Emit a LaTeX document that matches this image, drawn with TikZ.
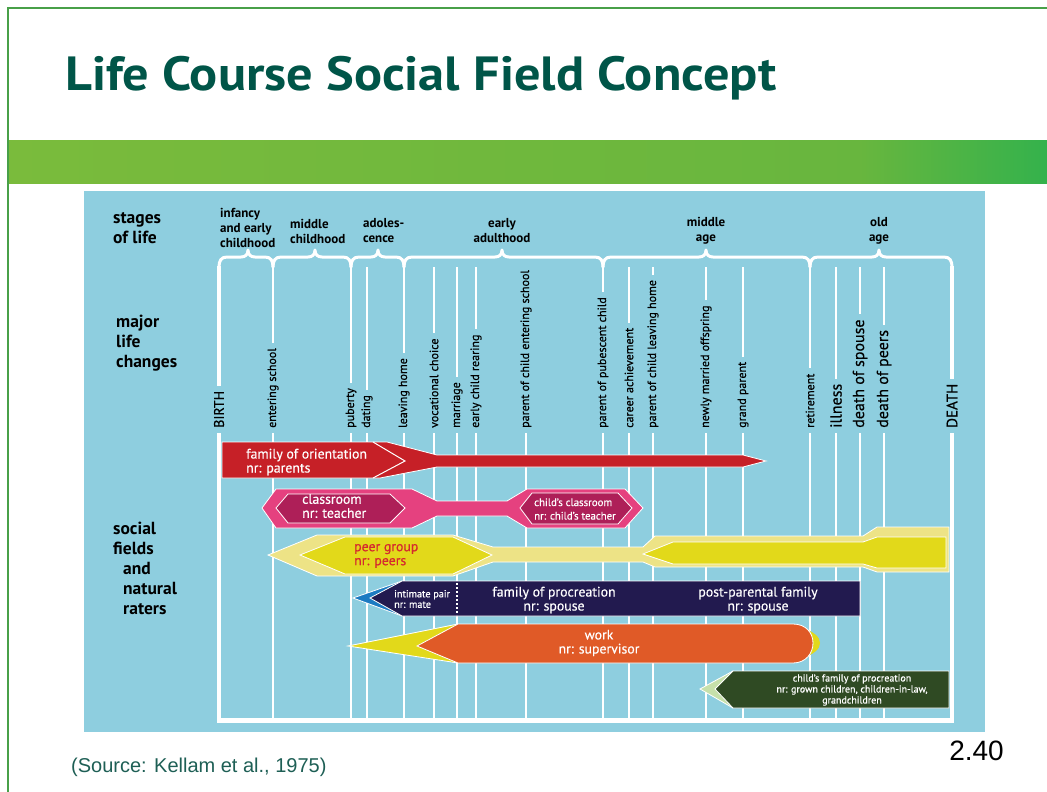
\documentclass[tikz,border=0pt]{standalone}
\usepackage{fontspec}
\setmainfont{PT Sans}
\newfontfamily\medf[FakeBold=0.5]{PT Sans}
\newfontfamily\arialf{Liberation Sans}
\definecolor{panelc}{RGB}{142,206,223}
\definecolor{titlec}{RGB}{0,85,72}
\definecolor{borderg}{RGB}{72,160,72}
\definecolor{bandL}{RGB}{122,187,60}
\definecolor{bandM}{RGB}{104,182,62}
\definecolor{bandR}{RGB}{52,178,76}
\definecolor{redc}{RGB}{198,32,39}
\definecolor{pinkc}{RGB}{229,65,127}
\definecolor{magc}{RGB}{174,31,88}
\definecolor{yelc}{RGB}{226,217,26}
\definecolor{lyelc}{RGB}{237,227,134}
\definecolor{navyc}{RGB}{34,26,79}
\definecolor{bluec}{RGB}{28,123,194}
\definecolor{orangec}{RGB}{224,90,39}
\definecolor{dgreenc}{RGB}{47,74,35}
\definecolor{lgreenc}{RGB}{198,224,170}
\definecolor{peertxt}{RGB}{213,40,46}
\definecolor{sourcec}{RGB}{30,95,85}
\newcommand\lcbrace[3]{%
  \draw[brc] (#1,267) .. controls (#1,261) and (#1+2,257) .. (#1+8,257)
    -- (#2-7,257) .. controls (#2-3,257) and (#2,255) .. (#2,250)
    .. controls (#2,255) and (#2+3,257) .. (#2+7,257)
    -- (#3-8,257) .. controls (#3-2,257) and (#3,261) .. (#3,267);}
\newcommand\lcline[6]{%
  \node[#4] (#1) at (#2,433) {#5};
  \draw[#6] (#2,#3) -- (#1.east);
  \draw[#6] (#1.west) -- (#2,720);}
\begin{document}
\begin{tikzpicture}[x=1pt,y=-1pt,
  vl/.style={draw=white,line width=2.6pt},
  vlthick/.style={draw=white,line width=4.5pt},
  brc/.style={draw=white,line width=3pt,line cap=round,line join=round},
  vlbl/.style={rotate=90,anchor=west,inner xsep=5pt,inner ysep=0pt,font=\medf\fontsize{12}{12}\selectfont},
  vlblbig/.style={vlbl,font=\medf\fontsize{16}{16}\selectfont},
  vlblcap/.style={vlbl,font=\medf\fontsize{15}{15}\selectfont},
  fld/.style={draw=white,line width=0.8pt,line join=miter},
  headlbl/.style={font=\bfseries\fontsize{17.5}{20}\selectfont,align=left,anchor=west,inner sep=0pt},
  stagelbl/.style={font=\bfseries\fontsize{13}{15}\selectfont,inner sep=0pt},
  ftxt/.style={text=white,font=\medf\fontsize{13.8}{14}\selectfont,inner sep=0pt},
  stxt/.style={text=white,font=\medf\fontsize{11}{14}\selectfont,inner sep=0pt,align=left,anchor=west},
]
\useasboundingbox (0,0) rectangle (1047,792);
\fill[white] (0,0) rectangle (1047,792);
% header
\shade[left color=bandL,right color=bandM] (8,140) rectangle (860,183);
\shade[left color=bandM,right color=bandR] (860,140) rectangle (1047,183);
\draw[borderg,line width=2pt] (8,792) -- (8,8) -- (1047,8);
\node[anchor=base west,inner sep=0pt,text=titlec,font=\bfseries\fontsize{48}{48}\selectfont] (title) at (65,91) {\scalebox{1.09}[1]{Life Course Social Field Concept}};
% panel
\fill[panelc] (84,191) rectangle (985,732);
% left labels
\node[headlbl] (stages) at (113,228) {stages\\of life};
\node[headlbl] (major) at (116,343) {major\\life\\changes};
\node[headlbl] (social) at (113,568) {social\\fields\\\hspace*{10pt}and\\\hspace*{10pt}natural\\\hspace*{10pt}raters};
% stage labels
\node[stagelbl,align=left,anchor=west] (infancy) at (220,228) {infancy\\and early\\childhood};
\node[stagelbl,align=left,anchor=west] (midchild) at (290,231) {middle\\childhood};
\node[stagelbl,align=left,anchor=west] (adol) at (363,231) {adoles-\\cence};
\node[stagelbl,align=center] (earlyad) at (502,231) {early\\adulthood};
\node[stagelbl,align=center] (midage) at (706,231) {middle\\age};
\node[stagelbl,align=center] (oldage) at (879,231) {old\\age};
% braces
\lcbrace{219}{248}{273}
\lcbrace{273}{315}{351}
\lcbrace{351}{378}{404}
\lcbrace{404}{502}{603}
\lcbrace{603}{706}{810}
\lcbrace{810}{879}{952}
% life change lines
\lcline{birth}{219}{266}{vlblcap,font=\medf\fontsize{14}{14}\selectfont}{BIRTH}{vlthick}
\lcline{entsch}{273}{266}{vlbl}{entering school}{vl}
\lcline{puberty}{351}{266}{vlbl}{puberty}{vl}
\lcline{dating}{367}{267}{vlbl}{dating}{vl}
\lcline{leaving}{404}{266}{vlbl}{leaving home}{vl}
\lcline{voc}{434}{267}{vlbl}{vocational choice}{vl}
\lcline{marriage}{457}{267}{vlbl}{marriage}{vl}
\lcline{rearing}{476}{267}{vlbl}{early child rearing}{vl}
\node[vlbl] (pces) at (526,433) {parent of child entering school};
\draw[vl] (pces.west) -- (526,720);
\lcline{pubesc}{603}{266}{vlbl}{parent of pubescent child}{vl}
\lcline{career}{629}{267}{vlbl}{career achievement}{vl}
\lcline{pcleave}{653}{267}{vlbl}{parent of child leaving home}{vl}
\lcline{newly}{706}{267}{vlbl}{newly married offspring}{vl}
\lcline{grand}{743}{267}{vlbl}{grand parent}{vl}
\lcline{retire}{810}{266}{vlbl}{retirement}{vl}
\lcline{illness}{836}{267}{vlblbig}{illness}{vl}
\lcline{dspouse}{860}{267}{vlblbig}{death of spouse}{vl}
\lcline{dpeers}{884}{267}{vlblbig}{death of peers}{vl}
\lcline{death}{952}{266}{vlblcap}{DEATH}{vlthick}
\draw[white,line width=5pt] (217,720.5) -- (954.2,720.5);
% family of orientation
\fill[redc,fld] (222,442) -- (387,442) -- (437,455) -- (743,455) -- (766,461) -- (743,467) -- (437,467) -- (380,478) -- (222,478) -- cycle;
\draw[white,line width=1pt] (373,442) -- (405,461) -- (373,478);
\node[ftxt,align=left,anchor=west] (forient) at (246,462) {family of orientation\\nr: parents};
% classroom
\fill[pinkc,fld] (262,508) -- (276,489) -- (412,489) -- (437,501) -- (507,501) -- (527,489) -- (625,489) -- (643,508) -- (625,528) -- (527,528) -- (507,516) -- (437,516) -- (412,528) -- (276,528) -- cycle;
\fill[magc,fld] (276,508) -- (288,494) -- (390,494) -- (405,508) -- (390,523) -- (288,523) -- cycle;
\fill[magc,fld] (520,508) -- (532,493) -- (618,493) -- (632,508) -- (618,524) -- (532,524) -- cycle;
\node[ftxt,align=left,anchor=west] (classroom) at (302,506) {classroom\\nr: teacher};
\node[stxt,font=\medf\fontsize{10.8}{13.5}\selectfont] (chclass) at (534,509) {child’s classroom\\nr: child’s teacher};
% peer group
\fill[lyelc,fld] (268,555) -- (317,535) -- (453,535) -- (493,547) -- (643,547) -- (655,536) -- (863,536) -- (877,527) -- (949,527) -- (949,572) -- (877,572) -- (863,567) -- (655,567) -- (643,562) -- (493,562) -- (453,576) -- (317,576) -- cycle;
\fill[yelc,fld] (300,555) -- (345,537) -- (453,537) -- (492,555) -- (453,574) -- (345,574) -- cycle;
\fill[yelc,fld] (643,554) -- (673,542) -- (863,542) -- (877,537) -- (946,537) -- (946,568) -- (877,568) -- (863,564) -- (673,564) -- cycle;
\node[ftxt,text=peertxt,align=left,anchor=west] (peer) at (354,556) {peer group\\nr: peers};
% family of procreation
\fill[bluec,fld] (353,598) -- (402,581) -- (402,616) -- cycle;
\fill[navyc,fld] (370,598) -- (402,581) -- (860,581) -- (860,616) -- (402,616) -- cycle;
\draw[white,line width=2pt,dash pattern=on 2pt off 2pt] (457,583) -- (457,615);
\node[stxt,font=\medf\fontsize{10.2}{10.5}\selectfont] (intimate) at (394,599) {intimate pair\\nr: mate};
\node[ftxt,align=center] (procr) at (554,600) {family of procreation\\nr: spouse};
\node[ftxt,align=center] (postpar) at (758,600) {post-parental family\\nr: spouse};
% work
\fill[yelc,fld] (348,646) -- (458,624) -- (458,663) -- cycle;
\fill[yelc] (803,628) .. controls (814,632) and (820,637) .. (820,643) .. controls (820,649) and (814,654) .. (803,658) -- cycle;
\fill[orangec,fld] (417,646) -- (458,624) -- (793,624) .. controls (806,624) and (813,633) .. (813,643) .. controls (813,653) and (806,663) .. (793,663) -- (458,663) -- cycle;
\node[ftxt,align=center] (work) at (599,643) {work\\nr: supervisor};
% child's family of procreation
\fill[lgreenc,fld] (700,689) -- (733,671) -- (733,708) -- cycle;
\fill[dgreenc,fld] (715,689) -- (733,671) -- (949,671) -- (949,708) -- (733,708) -- cycle;
\node[ftxt,align=center,font=\medf\fontsize{10}{11}\selectfont] (chfam) at (852,690) {child’s family of procreation\\nr: grown children, children-in-law,\\grandchildren};
% footer
\node[anchor=base west,inner sep=0pt,text=sourcec,font=\arialf\fontsize{20}{20}\selectfont] (source) at (71,772) {(Source: Kellam et al., 1975)};
\node[anchor=base east,inner sep=0pt,font=\arialf\fontsize{28}{28}\selectfont] (pagenum) at (1004,760) {2.40};
\end{tikzpicture}
\end{document}
